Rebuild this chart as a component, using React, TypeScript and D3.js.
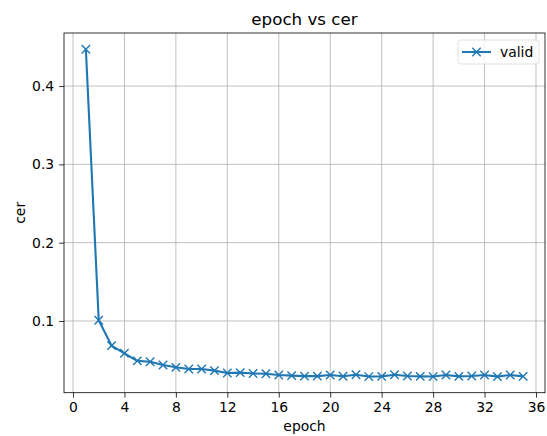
import { useEffect, useRef } from 'react';
import * as d3 from 'd3';

const epochs = [
  1, 2, 3, 4, 5, 6, 7, 8, 9, 10, 11, 12, 13, 14, 15, 16, 17, 18,
  19, 20, 21, 22, 23, 24, 25, 26, 27, 28, 29, 30, 31, 32, 33, 34, 35
];
const cer = [
  0.447, 0.101, 0.0685, 0.0587, 0.049, 0.048, 0.0438, 0.0408, 0.0387, 0.0387,
  0.0366, 0.0336, 0.034, 0.033, 0.0326, 0.031, 0.0302, 0.0296, 0.0296, 0.031,
  0.0294, 0.0313, 0.029, 0.0293, 0.0313, 0.0298, 0.0293, 0.029, 0.031, 0.0293,
  0.0298, 0.031, 0.0289, 0.031, 0.0293
];
const xTicks = [0, 4, 8, 12, 16, 20, 24, 28, 32, 36];
const yTicks = [0.1, 0.2, 0.3, 0.4];

const W = 547;
const H = 436;
const FONT = '"DejaVu Sans", sans-serif';

export default function App() {
  const ref = useRef<SVGSVGElement | null>(null);

  useEffect(() => {
    if (!ref.current) return;
    const svg = d3.select(ref.current);
    svg.selectAll('*').remove();

    const left = 64, right = 545, top = 33, bottom = 392.7;

    const x = d3.scaleLinear().domain([-0.7, 36.7]).range([left, right]);
    const y = d3.scaleLinear().domain([0.0084, 0.4678]).range([bottom, top]);

    svg.append('rect').attr('width', W).attr('height', H).attr('fill', '#fff');

    // grid
    const grid = svg.append('g');
    xTicks.forEach(t => {
      grid.append('line')
        .attr('x1', x(t)).attr('x2', x(t))
        .attr('y1', top).attr('y2', bottom)
        .attr('stroke', '#b0b0b0').attr('stroke-width', 0.8);
    });
    yTicks.forEach(t => {
      grid.append('line')
        .attr('x1', left).attr('x2', right)
        .attr('y1', y(t)).attr('y2', y(t))
        .attr('stroke', '#b0b0b0').attr('stroke-width', 0.8);
    });

    // axes
    const xAxis = svg.append('g')
      .attr('transform', `translate(0,${bottom})`)
      .call(d3.axisBottom(x).tickValues(xTicks).tickFormat(d3.format('d')).tickSize(4.9).tickPadding(4.9));
    const yAxis = svg.append('g')
      .attr('transform', `translate(${left},0)`)
      .call(d3.axisLeft(y).tickValues(yTicks).tickFormat(d3.format('.1f')).tickSize(4.9).tickPadding(4.9));
    [xAxis, yAxis].forEach(a => {
      a.select('.domain').remove();
      a.selectAll('line').attr('stroke', '#000').attr('stroke-width', 0.8);
      a.selectAll('text')
        .attr('fill', '#000')
        .style('font-family', FONT)
        .style('font-size', '13.9px');
    });

    // frame
    svg.append('rect')
      .attr('x', left).attr('y', top)
      .attr('width', right - left).attr('height', bottom - top)
      .attr('fill', 'none').attr('stroke', '#000').attr('stroke-width', 0.8);

    // line
    const pts = epochs.map((e, i) => [e, cer[i]] as [number, number]);
    const line = d3.line<[number, number]>()
      .x(d => x(d[0]))
      .y(d => y(d[1]));

    const color = '#1f77b4';
    svg.append('path')
      .datum(pts)
      .attr('fill', 'none')
      .attr('stroke', color)
      .attr('stroke-width', 2.1)
      .attr('d', line);

    const m = 4.2;
    const marks = svg.append('g');
    pts.forEach(d => {
      const cx = x(d[0]), cy = y(d[1]);
      marks.append('path')
        .attr('d', `M${cx - m},${cy - m}L${cx + m},${cy + m}M${cx - m},${cy + m}L${cx + m},${cy - m}`)
        .attr('stroke', color)
        .attr('stroke-width', 1.4)
        .attr('fill', 'none');
    });

    // title and labels
    svg.append('text')
      .attr('x', (left + right) / 2).attr('y', 25)
      .attr('text-anchor', 'middle')
      .style('font-family', FONT).style('font-size', '16.7px')
      .text('epoch vs cer');
    svg.append('text')
      .attr('x', (left + right) / 2).attr('y', 431)
      .attr('text-anchor', 'middle')
      .style('font-family', FONT).style('font-size', '13.9px')
      .text('epoch');
    svg.append('text')
      .attr('transform', `translate(25,${(top + bottom) / 2}) rotate(-90)`)
      .attr('text-anchor', 'middle')
      .style('font-family', FONT).style('font-size', '13.9px')
      .text('cer');

    // legend
    const lg = svg.append('g').attr('transform', 'translate(458,40)');
    lg.append('rect')
      .attr('width', 81).attr('height', 24).attr('rx', 3)
      .attr('fill', '#fff').attr('fill-opacity', 0.8)
      .attr('stroke', '#d9d9d9').attr('stroke-width', 0.8);
    lg.append('line')
      .attr('x1', 4).attr('x2', 33).attr('y1', 12).attr('y2', 12)
      .attr('stroke', color).attr('stroke-width', 2.1);
    lg.append('path')
      .attr('d', `M${18.5 - m},${12 - m}L${18.5 + m},${12 + m}M${18.5 - m},${12 + m}L${18.5 + m},${12 - m}`)
      .attr('stroke', color).attr('stroke-width', 1.4);
    lg.append('text')
      .attr('x', 42).attr('y', 17)
      .style('font-family', FONT).style('font-size', '13.9px')
      .text('valid');
  }, []);

  return (
    <svg ref={ref} width={W} height={H} style={{ position: 'absolute', left: 0, top: 0 }} />
  );
}
